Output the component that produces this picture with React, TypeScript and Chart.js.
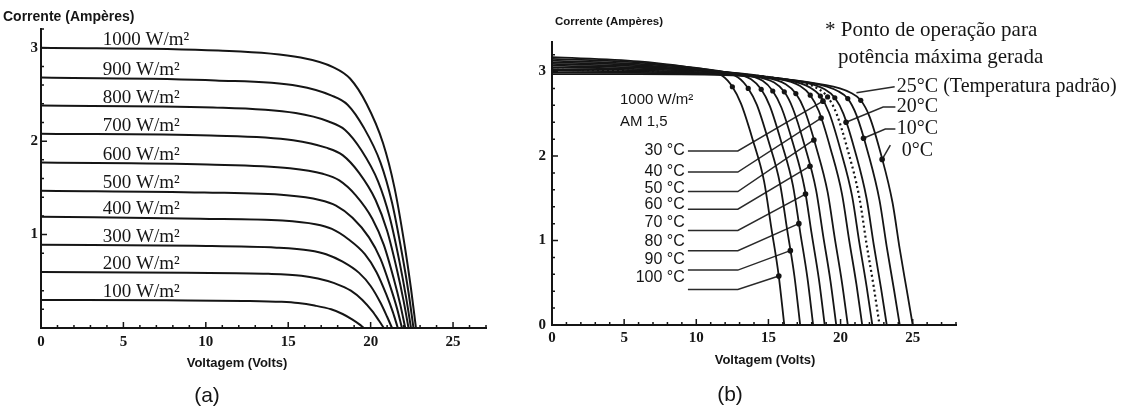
import React, { useEffect, useRef } from "react";
import { Chart, registerables } from "chart.js";
Chart.register(...registerables);

// ---------- Panel (a): irradiance ----------
const irradianceLabels = ["1000 W/m²", "900 W/m²", "800 W/m²", "700 W/m²", "600 W/m²", "500 W/m²", "400 W/m²", "300 W/m²", "200 W/m²", "100 W/m²"];
const aVolts: number[][] = [
  [0, 10.75, 15.75, 17.75, 18.75, 19.75, 20.75, 21.45, 22.05, 22.45, 22.75],
  [0, 10.6, 15.6, 17.6, 18.6, 19.6, 20.6, 21.3, 21.9, 22.3, 22.6],
  [0, 10.45, 15.45, 17.45, 18.45, 19.45, 20.45, 21.15, 21.75, 22.15, 22.45],
  [0, 10.3, 15.3, 17.3, 18.3, 19.3, 20.3, 21.0, 21.6, 22.0, 22.3],
  [0, 10.1, 15.1, 17.1, 18.1, 19.1, 20.1, 20.8, 21.4, 21.8, 22.1],
  [0, 9.9, 14.9, 16.9, 17.9, 18.9, 19.9, 20.6, 21.2, 21.6, 21.9],
  [0, 9.65, 14.65, 16.65, 17.65, 18.65, 19.65, 20.35, 20.95, 21.35, 21.65],
  [0, 9.3, 14.3, 16.3, 17.3, 18.3, 19.3, 20.0, 20.6, 21.0, 21.3],
  [0, 8.8, 13.8, 15.8, 16.8, 17.8, 18.8, 19.5, 20.1, 20.5, 20.8],
  [0, 7.6, 12.6, 14.6, 15.6, 16.6, 17.6, 18.3, 18.9, 19.3, 19.6],
];
const aAmps: number[][] = [
  [3.0, 2.97, 2.895, 2.79, 2.67, 2.4, 1.98, 1.5, 0.9, 0.42, 0],
  [2.68, 2.65, 2.59, 2.49, 2.39, 2.14, 1.77, 1.34, 0.8, 0.38, 0],
  [2.38, 2.36, 2.3, 2.21, 2.12, 1.9, 1.57, 1.19, 0.71, 0.33, 0],
  [2.08, 2.06, 2.01, 1.93, 1.85, 1.66, 1.37, 1.04, 0.62, 0.29, 0],
  [1.77, 1.75, 1.71, 1.65, 1.58, 1.42, 1.17, 0.89, 0.53, 0.25, 0],
  [1.47, 1.45, 1.42, 1.37, 1.31, 1.18, 0.97, 0.74, 0.44, 0.21, 0],
  [1.19, 1.17, 1.15, 1.11, 1.06, 0.95, 0.79, 0.6, 0.36, 0.17, 0],
  [0.89, 0.88, 0.86, 0.83, 0.79, 0.71, 0.59, 0.45, 0.27, 0.12, 0],
  [0.6, 0.59, 0.58, 0.56, 0.53, 0.48, 0.4, 0.3, 0.18, 0.08, 0],
  [0.3, 0.296, 0.29, 0.28, 0.267, 0.24, 0.2, 0.15, 0.09, 0.042, 0],
];
const aLabelVolt = 3.75;

// ---------- Panel (b): temperature ----------
const tempsB = [100, 90, 80, 70, 60, 50, 40, 30, 25, 20, 10, 0];
const bVolts: number[][] = [
  [0, 6, 10.1, 11.8, 12.5, 13.1, 13.9, 14.7, 15.2, 15.7, 16.1],
  [0, 6, 11.2, 12.9, 13.6, 14.2, 15.0, 15.8, 16.3, 16.8, 17.2],
  [0, 6, 12.1, 13.8, 14.5, 15.1, 15.9, 16.7, 17.2, 17.7, 18.1],
  [0, 6, 12.9, 14.6, 15.3, 15.9, 16.7, 17.5, 18.0, 18.5, 18.9],
  [0, 6, 13.7, 15.4, 16.1, 16.7, 17.5, 18.3, 18.8, 19.3, 19.7],
  [0, 6, 14.5, 16.2, 16.9, 17.5, 18.3, 19.1, 19.6, 20.1, 20.5],
  [0, 6, 15.5, 17.2, 17.9, 18.5, 19.3, 20.1, 20.6, 21.1, 21.5],
  [0, 6, 16.2, 17.9, 18.6, 19.2, 20.0, 20.8, 21.3, 21.8, 22.2],
  [0, 6, 16.7, 18.4, 19.1, 19.7, 20.5, 21.3, 21.8, 22.3, 22.7],
  [0, 6, 17.2, 18.9, 19.6, 20.2, 21.0, 21.8, 22.3, 22.8, 23.2],
  [0, 6, 18.1, 19.8, 20.5, 21.1, 21.9, 22.7, 23.2, 23.7, 24.1],
  [0, 6, 19.0, 20.7, 21.4, 22.0, 22.8, 23.6, 24.1, 24.6, 25.0],
];
const bAmps: number[][] = [
  [3.17, 3.12, 3.03, 2.95, 2.82, 2.62, 2.2, 1.7, 1.15, 0.6, 0],
  [3.15, 3.105, 3.01, 2.93, 2.8, 2.605, 2.18, 1.675, 1.125, 0.58, 0],
  [3.13, 3.09, 2.99, 2.91, 2.79, 2.59, 2.16, 1.65, 1.1, 0.56, 0],
  [3.11, 3.075, 2.97, 2.89, 2.77, 2.575, 2.15, 1.625, 1.075, 0.54, 0],
  [3.09, 3.06, 2.95, 2.87, 2.76, 2.56, 2.13, 1.6, 1.05, 0.52, 0],
  [3.07, 3.045, 2.935, 2.85, 2.74, 2.545, 2.11, 1.575, 1.025, 0.5, 0],
  [3.05, 3.03, 2.92, 2.83, 2.72, 2.53, 2.09, 1.55, 1.0, 0.48, 0],
  [3.03, 3.015, 2.9, 2.81, 2.71, 2.515, 2.07, 1.525, 0.975, 0.46, 0],
  [3.02, 3.008, 2.89, 2.8, 2.7, 2.51, 2.07, 1.51, 0.96, 0.45, 0],
  [3.01, 3.0, 2.88, 2.79, 2.69, 2.5, 2.06, 1.5, 0.95, 0.44, 0],
  [2.99, 2.985, 2.86, 2.77, 2.68, 2.485, 2.04, 1.475, 0.925, 0.42, 0],
  [2.97, 2.97, 2.84, 2.75, 2.66, 2.47, 2.02, 1.45, 0.9, 0.4, 0],
];
const mppIndex = 4;

// left temperature labels and leaders
const leftLabels = ["30 °C", "40 °C", "50 °C", "60 °C", "70 °C", "80 °C", "90 °C", "100 °C"];
const leftLabelAmps = [2.06, 1.82, 1.61, 1.43, 1.21, 0.99, 0.77, 0.56];
const leftLeaderAmps = [2.06, 1.81, 1.58, 1.37, 1.12, 0.88, 0.65, 0.42];
const leftDotVolts = [18.78, 18.65, 18.15, 17.88, 17.57, 17.11, 16.52, 15.72];
const leftDotAmps = [2.65, 2.45, 2.19, 1.88, 1.55, 1.2, 0.88, 0.58];
const leftLabelVolt = 9.2;
const leftLeaderStart = 9.42;
const leftLeaderBend = 12.88;

// right temperature labels and leaders
const rightLabels = ["25°C (Temperatura padrão)", "20°C", "10°C", "0°C"];
const rightLabelVolts = [23.9, 23.9, 23.9, 24.24];
const rightLabelAmps = [2.82, 2.58, 2.32, 2.06];
const rightLeaderVolts: number[][] = [[23.75, 21.1], [23.8, 22.95, 20.38], [23.8, 23.1, 21.59], [23.45, 22.88]];
const rightLeaderAmps: number[][] = [[2.82, 2.75], [2.58, 2.58, 2.4], [2.32, 2.32, 2.21], [2.13, 1.96]];
const rightLeaderDot = [false, true, true, true];

const INK = "#151515";

function txt(ctx: CanvasRenderingContext2D, s: string, x: number, y: number, font: string, align: CanvasTextAlign = "left", baseline: CanvasTextBaseline = "middle") {
  ctx.save();
  ctx.fillStyle = INK;
  ctx.font = font;
  ctx.textAlign = align;
  ctx.textBaseline = baseline;
  ctx.fillText(s, x, y);
  ctx.restore();
}

function innerTicks(xStep: number, yStep: number, xMajor: number, yMajor: number) {
  return {
    id: "innerTicks",
    afterDraw(chart: any) {
      const { ctx } = chart;
      const xs = chart.scales.x;
      const ys = chart.scales.y;
      const bottom = ys.getPixelForValue(ys.min);
      const left = xs.getPixelForValue(xs.min);
      ctx.save();
      ctx.strokeStyle = INK;
      ctx.lineWidth = 1.5;
      ctx.beginPath();
      for (let i = 1; i * xStep <= xs.max + 1e-9; i++) {
        const v = i * xStep;
        const major = Math.abs(v / xMajor - Math.round(v / xMajor)) < 1e-6;
        const px = xs.getPixelForValue(v);
        ctx.moveTo(px, bottom);
        ctx.lineTo(px, bottom - (major ? 6 : 3));
      }
      for (let i = 1; i * yStep <= ys.max + 1e-9; i++) {
        const v = i * yStep;
        const major = Math.abs(v / yMajor - Math.round(v / yMajor)) < 1e-6;
        const py = ys.getPixelForValue(v);
        ctx.moveTo(left, py);
        ctx.lineTo(left + (major ? 6 : 3), py);
      }
      ctx.stroke();
      ctx.restore();
    },
  };
}

function axisOpts(min: number, max: number, step: number, size: number, isX: boolean, pad: number, showZero: boolean) {
  return {
    type: "linear",
    min,
    max,
    afterFit: (s: any) => {
      if (isX) s.height = size;
      else s.width = size;
    },
    border: { display: true, color: INK, width: 2 },
    grid: { display: true, drawOnChartArea: false, drawTicks: false },
    ticks: {
      stepSize: step,
      includeBounds: false,
      padding: pad,
      color: INK,
      autoSkip: false,
      maxRotation: 0,
      font: { family: "Liberation Serif", size: 15, weight: "bold" },
      callback: (v: number) => (v === 0 && !showZero ? "" : String(v)),
    },
  };
}

const SERIF = "Liberation Serif";
const SANS = "Liberation Sans";

function buildA(canvas: HTMLCanvasElement) {
  const datasets = aVolts.map((vs, i) => ({
    label: irradianceLabels[i],
    data: vs.map((v, j) => ({ x: v, y: aAmps[i][j] })),
    showLine: true,
    borderColor: INK,
    borderWidth: 2,
    pointRadius: 0,
    cubicInterpolationMode: "monotone",
    fill: false,
  }));
  const textPlugin = {
    id: "textA",
    afterDraw(chart: any) {
      const { ctx } = chart;
      const xs = chart.scales.x;
      const ys = chart.scales.y;
      irradianceLabels.forEach((s, i) => {
        txt(ctx, s, xs.getPixelForValue(aLabelVolt), ys.getPixelForValue(aAmps[i][0]) - 2.5, `19px "${SERIF}"`, "left", "alphabetic");
      });
      txt(ctx, "Corrente (Ampères)", 3, 17, `bold 14px "${SANS}"`, "left");
      txt(ctx, "Voltagem (Volts)", 237, 363, `bold 13px "${SANS}"`, "center");
      txt(ctx, "(a)", 207, 396, `21px "${SANS}"`, "center");
    },
  };
  return new Chart(canvas, {
    type: "scatter",
    data: { datasets } as any,
    options: {
      responsive: false,
      animation: false,
      layout: { autoPadding: false, padding: { top: 29, right: 24, left: 0, bottom: 0 } },
      plugins: { legend: { display: false }, tooltip: { enabled: false } },
      scales: {
        x: axisOpts(0, 27, 5, 79, true, 5, true),
        y: axisOpts(0, 3.2, 1, 41, false, 3, false),
      } as any,
    } as any,
    plugins: [innerTicks(1, 0.2, 5, 1), textPlugin],
  });
}

function buildB(canvas: HTMLCanvasElement) {
  const curves = bVolts.map((vs, i) => ({
    label: `${tempsB[i]} °C`,
    data: vs.map((v, j) => ({ x: v, y: bAmps[i][j] })),
    showLine: true,
    borderColor: INK,
    borderWidth: tempsB[i] === 25 ? 2.2 : 1.8,
    borderDash: tempsB[i] === 25 ? [2, 3] : [],
    pointRadius: vs.map((_, j) => (j === mppIndex ? 2.6 : 0)),
    pointBackgroundColor: INK,
    pointBorderWidth: 0,
    cubicInterpolationMode: "monotone",
    fill: false,
  }));
  const leftLeaders = leftLabels.map((s, i) => ({
    label: `leader ${s}`,
    data: [
      { x: leftLeaderStart, y: leftLeaderAmps[i] },
      { x: leftLeaderBend, y: leftLeaderAmps[i] },
      { x: leftDotVolts[i], y: leftDotAmps[i] },
    ],
    showLine: true,
    borderColor: "#2a2a2a",
    borderWidth: 1.5,
    pointRadius: [0, 0, 2.8],
    pointBackgroundColor: INK,
    pointBorderWidth: 0,
  }));
  const rightLeaders = rightLabels.map((s, i) => ({
    label: `leader ${s}`,
    data: rightLeaderVolts[i].map((v, j) => ({ x: v, y: rightLeaderAmps[i][j] })),
    showLine: true,
    borderColor: "#2a2a2a",
    borderWidth: 1.5,
    pointRadius: rightLeaderVolts[i].map((_, j) => (rightLeaderDot[i] && j === rightLeaderVolts[i].length - 1 ? 2.8 : 0)),
    pointBackgroundColor: INK,
    pointBorderWidth: 0,
  }));
  const textPlugin = {
    id: "textB",
    afterDraw(chart: any) {
      const { ctx } = chart;
      const xs = chart.scales.x;
      const ys = chart.scales.y;
      leftLabels.forEach((s, i) => {
        txt(ctx, s, xs.getPixelForValue(leftLabelVolt), ys.getPixelForValue(leftLabelAmps[i]), `16px "${SANS}"`, "right");
      });
      rightLabels.forEach((s, i) => {
        txt(ctx, s, xs.getPixelForValue(rightLabelVolts[i]), ys.getPixelForValue(rightLabelAmps[i]), `20px "${SERIF}"`, "left");
      });
      txt(ctx, "1000 W/m²", 100, 100, `15px "${SANS}"`, "left");
      txt(ctx, "AM 1,5", 100, 122, `15px "${SANS}"`, "left");
      txt(ctx, "* Ponto de operação para", 305, 30, `21px "${SERIF}"`, "left");
      txt(ctx, "potência máxima gerada", 318, 57, `21px "${SERIF}"`, "left");
      txt(ctx, "Corrente (Ampères)", 35, 22, `bold 11.5px "${SANS}"`, "left");
      txt(ctx, "Voltagem (Volts)", 245, 360, `bold 13px "${SANS}"`, "center");
      txt(ctx, "(b)", 210, 395, `21px "${SANS}"`, "center");
    },
  };
  return new Chart(canvas, {
    type: "scatter",
    data: { datasets: [...curves, ...leftLeaders, ...rightLeaders] } as any,
    options: {
      responsive: false,
      animation: false,
      layout: { autoPadding: false, padding: { top: 42, right: 172, left: 0, bottom: 0 } },
      plugins: { legend: { display: false }, tooltip: { enabled: false } },
      scales: {
        x: axisOpts(0, 28, 5, 82, true, 4, true),
        y: axisOpts(0, 3.35, 1, 32, false, 6, true),
      } as any,
    } as any,
    plugins: [innerTicks(1, 0.2, 5, 1), textPlugin],
  });
}

export default function App() {
  const refA = useRef<HTMLCanvasElement>(null);
  const refB = useRef<HTMLCanvasElement>(null);
  useEffect(() => {
    const a = buildA(refA.current!);
    const b = buildB(refB.current!);
    return () => {
      a.destroy();
      b.destroy();
    };
  }, []);
  return (
    <div style={{ position: "absolute", left: 0, top: 0, width: 1128, height: 407, background: "#fff", overflow: "hidden" }}>
      <canvas ref={refA} width={510} height={407} style={{ position: "absolute", left: 0, top: 0, width: 510, height: 407 }} />
      <canvas ref={refB} width={608} height={407} style={{ position: "absolute", left: 520, top: 0, width: 608, height: 407 }} />
    </div>
  );
}
